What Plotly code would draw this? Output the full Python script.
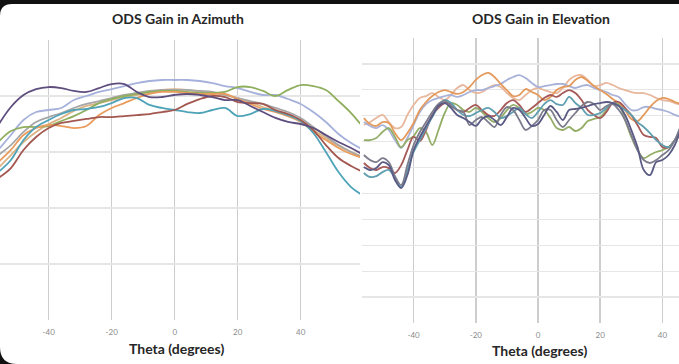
import plotly.graph_objects as go

# ---------------- Azimuth (left) ----------------
theta_az = list(range(-56, 61, 4))

az_purple = [-7.59, -5.98, -4.91, -4.38, -4.2, -4.29, -4.55, -4.64, -4.29, -3.93, -3.93, -4.64, -5.09, -5.09, -4.91,
             -4.82, -4.91, -5.09, -5.36, -5.36, -5.89, -6.43, -6.96, -7.32, -7.5, -7.86, -8.48, -9.11, -9.64, -10.27]
az_lavender = [-9.82, -8.48, -7.14, -6.43, -6.25, -6.07, -5.36, -5.0, -4.64, -4.38, -4.11, -3.84, -3.66, -3.57, -3.57,
               -3.57, -3.66, -3.84, -4.11, -4.29, -4.64, -4.91, -4.91, -5.27, -5.71, -6.43, -7.32, -8.39, -9.2, -9.82]
az_green = [-9.11, -8.13, -7.77, -7.77, -7.68, -7.23, -6.79, -6.25, -5.63, -5.27, -5.0, -4.82, -4.64, -4.55, -4.55,
            -4.64, -4.73, -4.73, -4.64, -4.2, -4.2, -4.55, -5.0, -4.46, -4.02, -4.11, -4.46, -5.45, -6.52, -7.86]
az_cyan = [-11.79, -10.71, -8.93, -7.77, -7.14, -6.61, -6.25, -6.16, -5.98, -5.63, -5.18, -5.18, -5.8, -6.07, -6.25,
           -6.43, -6.52, -6.25, -6.07, -6.79, -6.61, -6.16, -6.34, -6.7, -7.23, -8.3, -10.0, -11.79, -13.13, -13.93]
az_brown = [-12.32, -11.43, -9.82, -8.66, -7.86, -7.41, -7.23, -7.05, -6.88, -6.88, -6.79, -6.7, -6.61, -6.43, -6.25,
            -5.71, -5.27, -5.0, -5.09, -5.54, -5.63, -5.71, -6.25, -6.61, -7.14, -8.04, -9.38, -10.54, -11.25, -11.79]
az_orange = [-10.89, -9.82, -8.48, -7.86, -7.59, -7.68, -7.86, -7.68, -6.7, -6.07, -5.63, -5.18, -4.82, -4.64, -4.64,
             -4.73, -4.82, -4.82, -4.82, -5.27, -5.71, -6.16, -6.43, -6.79, -7.23, -8.21, -8.93, -9.64, -10.18, -10.54]
az_gray = [-10.27, -9.38, -8.21, -7.32, -6.88, -6.52, -6.07, -5.71, -5.45, -5.18, -4.91, -4.73, -4.55, -4.46, -4.46,
           -4.46, -4.55, -4.64, -4.91, -5.18, -5.45, -5.71, -6.07, -6.43, -6.96, -7.77, -8.57, -9.38, -10.0, -10.54]
az_tan = [-11.43, -10.27, -9.11, -8.21, -7.5, -6.96, -6.34, -5.89, -5.63, -5.36, -5.09, -4.91, -4.73, -4.46, -4.38,
          -4.46, -4.64, -4.73, -4.91, -5.18, -5.54, -5.98, -6.34, -6.79, -7.32, -8.04, -8.75, -9.46, -10.0, -10.45]

az_series = [
    ("tan", az_tan, "#dcb384"),
    ("gray", az_gray, "#a6a6a6"),
    ("lavender", az_lavender, "#a6b1db"),
    ("green", az_green, "#8fae5e"),
    ("orange", az_orange, "#e99c5c"),
    ("cyan", az_cyan, "#4fa3b8"),
    ("brown", az_brown, "#a2574f"),
    ("purple", az_purple, "#5e4e7e"),
]

# ---------------- Elevation (right) ----------------
theta_el = list(range(-56, 47, 2))

el_orange = [-6.18, -6.64, -6.79, -6.49, -6.56, -7.34, -7.88, -7.34, -6.56, -5.56, -4.94, -4.48, -4.17, -4.02, -4.17,
             -4.32, -4.17, -3.78, -3.24, -2.86, -2.70, -3.01, -3.55, -4.02, -4.48, -4.40, -3.94, -4.17, -4.40, -4.79,
             -4.55, -4.02, -3.78, -3.71, -3.24, -3.01, -3.32, -3.71, -4.02, -4.32, -4.71, -5.02, -5.56, -6.25, -6.41,
             -5.94, -5.33, -4.86, -4.63, -4.71, -4.94, -5.10]
el_peach = [-6.72, -6.49, -6.18, -5.94, -6.49, -6.95, -6.87, -5.94, -5.17, -4.63, -4.48, -4.25, -4.55, -4.79, -4.40,
            -3.86, -3.63, -4.02, -4.25, -4.17, -3.86, -3.63, -3.78, -4.25, -4.63, -4.79, -4.40, -4.02, -3.86, -4.02,
            -4.17, -4.25, -3.86, -3.24, -2.93, -2.86, -3.24, -3.71, -3.63, -3.47, -3.63, -3.86, -4.02, -4.17, -4.25,
            -4.25, -4.40, -4.63, -4.79, -4.86, -5.02, -5.17]
el_lavender = [-6.49, -6.79, -6.95, -6.72, -7.10, -7.88, -8.49, -7.72, -6.72, -5.71, -5.10, -4.79, -4.63, -4.48, -4.40,
               -4.55, -4.40, -4.17, -4.02, -4.02, -3.86, -3.71, -3.55, -3.24, -3.01, -2.86, -3.09, -3.47, -3.78, -3.71,
               -3.63, -3.55, -3.55, -3.71, -3.86, -3.71, -3.63, -3.86, -4.02, -4.17, -4.40, -4.55, -5.10, -5.56, -5.56,
               -5.33, -5.33, -5.48, -5.56, -5.71, -5.94, -6.10]
el_green = [-7.88, -7.88, -7.72, -7.26, -6.95, -7.64, -8.42, -7.88, -7.57, -6.95, -7.26, -8.26, -7.10, -5.79, -5.02,
            -5.17, -5.56, -5.71, -5.40, -5.71, -6.18, -6.49, -6.18, -5.56, -5.17, -5.40, -5.87, -5.71, -5.40, -5.56,
            -6.18, -6.95, -7.10, -6.87, -7.18, -6.95, -6.41, -6.25, -6.10, -5.56, -5.02, -5.17, -6.33, -7.64, -8.65,
            -9.27, -9.03, -8.80, -8.65, -8.42, -7.88, -7.49]
el_brown = [-9.65, -10.04, -10.19, -9.96, -10.04, -10.42, -9.81, -8.65, -7.64, -7.95, -7.10, -5.94, -5.40, -5.02, -5.10,
            -5.56, -5.71, -5.40, -5.17, -5.56, -5.94, -6.02, -5.56, -5.02, -4.79, -5.17, -5.71, -5.40, -5.02, -4.63,
            -4.40, -4.55, -4.25, -4.02, -4.25, -4.79, -5.56, -5.94, -6.18, -5.71, -5.02, -4.94, -5.40, -5.94, -6.72,
            -7.49, -7.64, -7.72, -8.42, -8.42, -7.88, -7.10]
el_navy = [-9.96, -10.19, -10.04, -9.58, -9.81, -10.96, -11.58, -10.58, -8.65, -7.64, -6.79, -6.02, -5.25, -5.02, -5.40,
           -5.94, -6.18, -6.49, -6.79, -6.25, -6.02, -6.33, -6.72, -6.10, -5.40, -5.56, -6.18, -6.79, -6.64, -5.94,
           -5.25, -5.71, -6.33, -5.56, -5.48, -5.40, -5.25, -5.10, -5.02, -4.94, -5.02, -5.25, -5.94, -7.10, -8.42,
           -10.19, -10.58, -9.58, -9.42, -9.03, -8.26, -6.95]
el_teal = [-10.42, -10.73, -10.66, -10.35, -10.19, -10.81, -11.51, -10.19, -8.80, -7.88, -6.95, -6.10, -5.25, -4.79, -5.02,
           -5.56, -5.94, -6.02, -5.79, -5.56, -5.40, -5.71, -6.18, -6.02, -5.71, -5.40, -5.87, -6.18, -5.71, -5.10,
           -4.79, -5.10, -5.17, -4.55, -5.02, -5.40, -5.94, -5.94, -5.79, -5.40, -5.02, -5.25, -5.56, -5.94, -6.49,
           -6.87, -7.34, -7.88, -8.26, -8.42, -7.88, -6.72]
el_gray = [-9.03, -9.42, -9.58, -9.27, -9.58, -10.66, -11.35, -9.81, -8.26, -7.26, -6.49, -5.71, -5.10, -4.86, -5.25,
           -5.56, -5.71, -6.72, -6.33, -6.10, -6.49, -6.87, -5.94, -5.33, -5.56, -6.33, -7.10, -6.79, -6.33, -5.56,
           -5.56, -6.33, -6.87, -6.33, -5.79, -5.25, -4.94, -5.10, -5.56, -5.25, -5.10, -5.56, -6.33, -7.49, -8.65,
           -9.42, -9.65, -9.42, -9.03, -8.65, -7.88, -6.72]

el_series = [
    ("peach", el_peach, "#e8b79c"),
    ("lavender", el_lavender, "#a8b2d8"),
    ("orange", el_orange, "#e39a5c"),
    ("green", el_green, "#94ae68"),
    ("brown", el_brown, "#a65a58"),
    ("teal", el_teal, "#5f9fb0"),
    ("gray", el_gray, "#7c7c8c"),
    ("navy", el_navy, "#5a5a85"),
]

tick_vals = [-40, -20, 0, 20, 40]
tick_text = ["-40", "-20", "0", "20", "40"]

W, H = 679, 364
fig = go.Figure()

for name, ys, col in az_series:
    fig.add_trace(go.Scatter(x=theta_az, y=ys, mode="lines", name=name,
                             line=dict(color=col, width=1.8, shape="spline", smoothing=1.0),
                             xaxis="x", yaxis="y", showlegend=False, hoverinfo="skip"))
for name, ys, col in el_series:
    fig.add_trace(go.Scatter(x=theta_el, y=ys, mode="lines", name=name,
                             line=dict(color=col, width=1.8, shape="spline", smoothing=1.0),
                             xaxis="x2", yaxis="y2", showlegend=False, hoverinfo="skip"))

xcommon = dict(tickvals=tick_vals, ticktext=tick_text, showgrid=True, gridcolor="#cdcdcd", gridwidth=1.5,
               zeroline=False, showline=False, ticks="", ticklabelstandoff=6,
               tickfont=dict(family="Lato, sans-serif", size=8, color="#8a8a8a"))
ycommon = dict(showgrid=True, gridcolor="#e6e6e6", gridwidth=1.2, zeroline=False, showline=False,
               showticklabels=False, ticks="")

fig.update_layout(
    width=W, height=H,
    margin=dict(l=0, r=0, t=0, b=0),
    paper_bgcolor="white", plot_bgcolor="white",
    showlegend=False, hovermode=False,
    xaxis=dict(domain=[0, 360 / W], range=[-55.46, 58.83], anchor="y", **xcommon),
    yaxis=dict(domain=[44 / H, 324 / H], range=[-25, 0], dtick=5, anchor="x", **ycommon),
    xaxis2=dict(domain=[362 / W, 1.0], range=[-56.6, 45.34], anchor="y2", **xcommon),
    yaxis2=dict(domain=[41 / H, 326 / H], range=[-22, 0], dtick=2, anchor="x2", **ycommon),
)

title_font = dict(family="Lato, sans-serif", size=14, color="#262626")
fig.add_annotation(text="<b>ODS Gain in Azimuth</b>", xref="paper", yref="paper",
                   x=178 / W, y=1 - 18 / H, showarrow=False, font=title_font, xanchor="center", yanchor="middle")
fig.add_annotation(text="<b>ODS Gain in Elevation</b>", xref="paper", yref="paper",
                   x=541 / W, y=1 - 18 / H, showarrow=False, font=title_font, xanchor="center", yanchor="middle")
fig.add_annotation(text="<b>Theta (degrees)</b>", xref="paper", yref="paper",
                   x=176 / W, y=1 - 348 / H, showarrow=False, font=title_font, xanchor="center", yanchor="middle")
fig.add_annotation(text="<b>Theta (degrees)</b>", xref="paper", yref="paper",
                   x=539 / W, y=1 - 350 / H, showarrow=False, font=title_font, xanchor="center", yanchor="middle")

# dark photo frame: top strip and rounded corners
fig.add_shape(type="rect", xref="paper", yref="paper", x0=0, x1=1, y0=1 - 4 / H, y1=1,
              fillcolor="#111111", line=dict(width=0), layer="above")
fig.add_shape(type="path", xref="paper", yref="paper",
              path=f"M 0 {1 - 3 / H} L 0 {1 - 16 / H} Q 0 {1 - 4 / H} {12 / W} {1 - 4 / H} L {12 / W} {1 - 3 / H} Z",
              fillcolor="#111111", line=dict(width=0), layer="above")
fig.add_shape(type="path", xref="paper", yref="paper",
              path=f"M 0 {17 / H} Q 0 0 {17 / W} 0 L 0 0 Z",
              fillcolor="#111111", line=dict(width=0), layer="above")

fig.write_html(
    "out.html",
    config={"displayModeBar": False, "staticPlot": True},
    post_script="document.body.style.margin='0';document.body.style.padding='0';"
                "document.documentElement.style.overflow='hidden';",
)
